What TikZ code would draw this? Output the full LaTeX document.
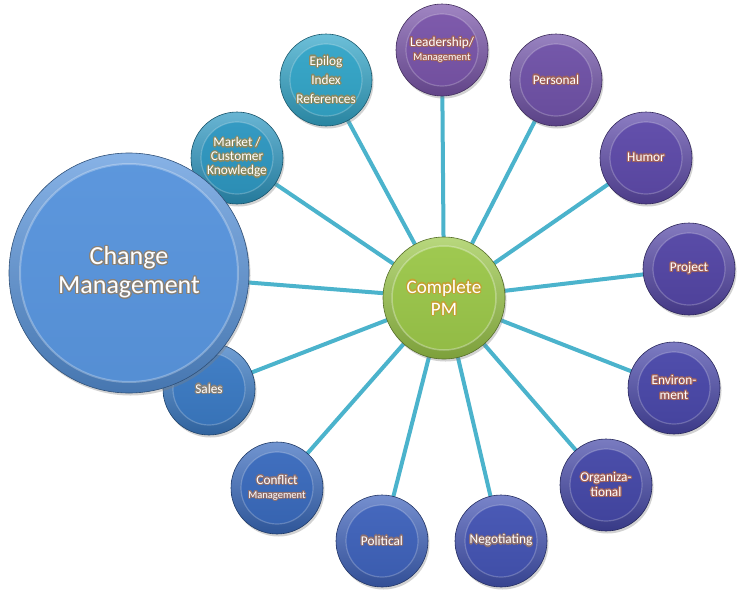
\documentclass[tikz,border=0pt]{standalone}
\usepackage{fontspec}
\setmainfont{Carlito}
\usepackage[copies]{contour}
\contourlength{1.1pt}
\usetikzlibrary{shadows,backgrounds}
\definecolor{linkc}{HTML}{4BB3CC}
\definecolor{cyanA}{HTML}{33A6C9}
\definecolor{cyanB}{HTML}{2E98C2}
\definecolor{purA}{HTML}{7A55AA}
\definecolor{purB}{HTML}{7052A8}
\definecolor{purC}{HTML}{5E4AAA}
\definecolor{purD}{HTML}{5446A6}
\definecolor{indA}{HTML}{4A48AA}
\definecolor{indB}{HTML}{4548A8}
\definecolor{bluA}{HTML}{4454B4}
\definecolor{bluB}{HTML}{3F63BC}
\definecolor{bluC}{HTML}{3A6BBE}
\definecolor{bluD}{HTML}{3B7BC5}
\definecolor{cmC}{HTML}{5894DC}
\definecolor{pmC}{HTML}{9CC84A}
\definecolor{glowOl}{HTML}{8C8A62}
\definecolor{glowBr}{HTML}{A0625C}
\definecolor{glowGr}{HTML}{8A8278}
\definecolor{glowPl}{HTML}{8E7070}
\definecolor{glowGd}{HTML}{C4A232}
\newcommand{\glw}[2]{\contour{#1}{#2}}
\tikzset{
  link/.style={draw=linkc, line width=4pt},
  ballbase/.style={circle, inner sep=0pt, align=center, text=white,
    top color=#1!72!white, bottom color=#1!80!black, draw=#1!55!black, line width=0.6pt,
    drop shadow={opacity=0.35, shadow xshift=1.5pt, shadow yshift=-2.5pt}},
  bub/.style={ballbase=#1, minimum size=92pt, font=\fontsize{13.3}{15}\selectfont,
    path picture={
      \shade[top color=#1!96!white, bottom color=#1!92!black]
        (path picture bounding box.center) circle[radius=36pt];
      \draw[white, opacity=0.22, line width=1.2pt]
        (path picture bounding box.center) circle[radius=36pt];}},
  pmball/.style={ballbase=#1, minimum size=122pt, font=\fontsize{19}{22}\selectfont,
    path picture={
      \shade[top color=#1!96!white, bottom color=#1!93!black]
        (path picture bounding box.center) circle[radius=52pt];
      \draw[white, opacity=0.3, line width=1.5pt]
        (path picture bounding box.center) circle[radius=52pt];}},
  cmball/.style={ballbase=#1, minimum size=240pt, font=\fontsize{26}{29}\selectfont,
    path picture={
      \shade[top color=#1!97!white, bottom color=#1!96!black]
        (path picture bounding box.center) circle[radius=109pt];
      \draw[white, opacity=0.28, line width=2pt]
        (path picture bounding box.center) circle[radius=109pt];}}
}
\begin{document}
\begin{tikzpicture}[x=1pt,y=-1pt]
\useasboundingbox (0,0) rectangle (743,600);
% satellites
\node[bub=cyanA] (epi) at (326,80) {\glw{glowOl}{Epilog}\\[4pt]\glw{glowOl}{Index}\\[4pt]\glw{glowOl}{References}};
\node[bub=purA] (lead) at (442,50) {\glw{glowBr}{Leadership/}\\[-1pt]{\fontsize{10.5}{12}\selectfont\glw{glowBr}{Management}}};
\node[bub=purB] (pers) at (556,80) {\glw{glowBr}{Personal}};
\node[bub=purC] (humor) at (646,158) {\glw{glowBr}{Humor}};
\node[bub=purD] (proj) at (689,269) {\glw{glowBr}{Project}};
\node[bub=indA] (env) at (674,388) {\glw{glowBr}{Environ-}\\\glw{glowBr}{ment}};
\node[bub=indB] (org) at (606,485) {\glw{glowBr}{Organiza-}\\\glw{glowBr}{tional}};
\node[bub=bluA] (neg) at (501,541) {\glw{glowPl}{Negotiating}};
\node[bub=bluB] (pol) at (382,541) {\glw{glowPl}{Political}};
\node[bub=bluC] (conf) at (277,488) {\glw{glowPl}{Conflict}\\[-1pt]{\fontsize{10.5}{12}\selectfont\glw{glowPl}{Management}}};
\node[bub=bluD] (sales) at (209,389) {\glw{glowGr}{Sales}};
\node[bub=cyanB] (mkt) at (237,158) {\glw{glowOl}{Market /}\\[-1pt]\glw{glowOl}{Customer}\\[-1pt]\glw{glowOl}{Knowledge}};
\node[cmball=cmC] (cm) at (129,273) {\glw{glowGr}{Change}\\\glw{glowGr}{Management}};
\node[pmball=pmC] (pm) at (444,298) {\glw{glowGd}{Complete}\\\glw{glowGd}{PM}};
\begin{pgfonlayer}{background}
  \fill[white] (0,0) rectangle (743,600);
  \foreach \t in {epi,lead,pers,humor,proj,env,org,neg,pol,conf,sales,mkt,cm}
    \draw[link] (pm.center) -- (\t.center);
\end{pgfonlayer}
\end{tikzpicture}
\end{document}
